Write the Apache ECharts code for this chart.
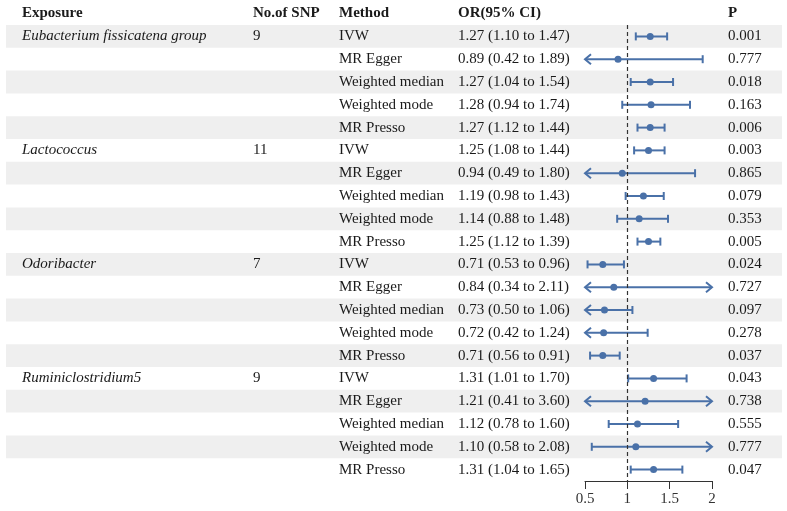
<!DOCTYPE html>
<html>
<head>
<meta charset="utf-8">
<script src="https://cdn.jsdelivr.net/npm/echarts@6/dist/echarts.min.js"></script>
<style>
html,body{margin:0;padding:0;background:#fff;}
#main{width:787px;height:511px;}
</style>
</head>
<body>
<div id="main"></div>
<script>
// ---- data ----
const headers = ["Exposure", "No.of SNP", "Method", "OR(95% CI)", "P"];
const exposures = ["Eubacterium fissicatena group", "Lactococcus", "Odoribacter", "Ruminiclostridium5"];
const nSNP = [9, 11, 7, 9];
const methods = ["IVW", "MR Egger", "Weighted median", "Weighted mode", "MR Presso"];
const orValues = [1.27, 0.89, 1.27, 1.28, 1.27,
                  1.25, 0.94, 1.19, 1.14, 1.25,
                  0.71, 0.84, 0.73, 0.72, 0.71,
                  1.31, 1.21, 1.12, 1.10, 1.31];
const ciLower = [1.10, 0.42, 1.04, 0.94, 1.12,
                 1.08, 0.49, 0.98, 0.88, 1.12,
                 0.53, 0.34, 0.50, 0.42, 0.56,
                 1.01, 0.41, 0.78, 0.58, 1.04];
const ciUpper = [1.47, 1.89, 1.54, 1.74, 1.44,
                 1.44, 1.80, 1.43, 1.48, 1.39,
                 0.96, 2.11, 1.06, 1.24, 0.91,
                 1.70, 3.60, 1.60, 2.08, 1.65];
const pValues = ["0.001", "0.777", "0.018", "0.163", "0.006",
                 "0.003", "0.865", "0.079", "0.353", "0.005",
                 "0.024", "0.727", "0.097", "0.278", "0.037",
                 "0.043", "0.738", "0.555", "0.777", "0.047"];
const xTicks = [0.5, 1, 1.5, 2];

// ---- build ----
const nRows = orValues.length;
const rowIdx = Array.from({length: nRows}, (_, i) => i);
const fmt = v => v.toFixed(2);
const X_MIN = xTicks[0], X_MAX = xTicks[xTicks.length - 1];

const FONT = "'Liberation Serif','Times New Roman',serif";
const FS = 15;
const TXT = '#1a1a1a';
const BLUE = '#4a71a8';
const colX = [22, 253, 339, 458, 728];

function txt(x, y, s, extra) {
  return {
    type: 'text',
    style: Object.assign({
      x: x, y: y, text: s, fill: TXT,
      font: 'normal ' + FS + 'px ' + FONT,
      textVerticalAlign: 'middle', verticalAlign: 'middle', textAlign: 'left'
    }, extra || {})
  };
}

const tableData = rowIdx.map(i => [1, i]);
const ciData = rowIdx.map(i => [orValues[i], i, ciLower[i], ciUpper[i]]);

const chart = echarts.init(document.getElementById('main'), null, {renderer: 'canvas'});
chart.setOption({
  animation: false,
  backgroundColor: '#fff',
  grid: {left: 585, right: 75, top: 25, height: 456},
  xAxis: {
    type: 'value', min: X_MIN, max: X_MAX, interval: 0.5,
    axisLine: {show: true, lineStyle: {color: '#333', width: 1}},
    axisTick: {show: true, length: 8, lineStyle: {color: '#333'}},
    axisLabel: {margin: 11, fontFamily: FONT, fontSize: FS, color: '#333',
      formatter: v => String(v)},
    splitLine: {show: false}
  },
  yAxis: {
    type: 'category', data: rowIdx.map(String), inverse: true, show: false
  },
  series: [
    {
      type: 'custom', z: 1, clip: false,
      data: tableData,
      renderItem: function (params, api) {
        const i = api.value(1);
        const yc = api.coord([1, i])[1];
        const bh = api.size([0, 1])[1];
        const children = [];
        if (i % 2 === 0) {
          children.push({type: 'rect', shape: {x: 6, y: yc - bh / 2, width: 776, height: bh},
            style: {fill: '#efefef'}});
        }
        if (i === 0) {
          headers.forEach((h, k) => children.push(txt(colX[k], yc - bh, h,
            {font: 'bold ' + FS + 'px ' + FONT})));
        }
        const g = Math.floor(i / methods.length);
        if (i % methods.length === 0) {
          children.push(txt(colX[0], yc, exposures[g], {font: 'italic ' + FS + 'px ' + FONT}));
          children.push(txt(colX[1], yc, String(nSNP[g])));
        }
        children.push(txt(colX[2], yc, methods[i % methods.length]));
        children.push(txt(colX[3], yc, fmt(orValues[i]) + ' (' + fmt(ciLower[i]) + ' to ' + fmt(ciUpper[i]) + ')'));
        children.push(txt(colX[4], yc, pValues[i]));
        return {type: 'group', children: children};
      }
    },
    {
      type: 'custom', z: 3, clip: false,
      data: ciData,
      encode: {x: 0, y: 1},
      renderItem: function (params, api) {
        const est = api.value(0), i = api.value(1), lo = api.value(2), hi = api.value(3);
        const p = api.coord([est, i]);
        const y = p[1];
        const xl = api.coord([Math.max(lo, X_MIN), i])[0];
        const xr = api.coord([Math.min(hi, X_MAX), i])[0];
        const ls = {stroke: BLUE, lineWidth: 2, fill: null};
        const ch = [{type: 'line', shape: {x1: xl, y1: y, x2: xr, y2: y}, style: ls}];
        if (lo <= X_MIN) {
          ch.push({type: 'polyline', shape: {points: [[xl + 6, y - 5], [xl, y], [xl + 6, y + 5]]}, style: ls});
        } else {
          ch.push({type: 'line', shape: {x1: xl, y1: y - 4, x2: xl, y2: y + 4}, style: ls});
        }
        if (hi >= X_MAX) {
          ch.push({type: 'polyline', shape: {points: [[xr - 6, y - 5], [xr, y], [xr - 6, y + 5]]}, style: ls});
        } else {
          ch.push({type: 'line', shape: {x1: xr, y1: y - 4, x2: xr, y2: y + 4}, style: ls});
        }
        ch.push({type: 'circle', shape: {cx: p[0], cy: y, r: 3.5}, style: {fill: BLUE}});
        return {type: 'group', children: ch};
      },
      markLine: {
        silent: true, symbol: 'none', label: {show: false},
        lineStyle: {color: '#333', type: [4, 3], width: 1.2},
        data: [{xAxis: 1}]
      }
    }
  ]
});
</script>
</body>
</html>
